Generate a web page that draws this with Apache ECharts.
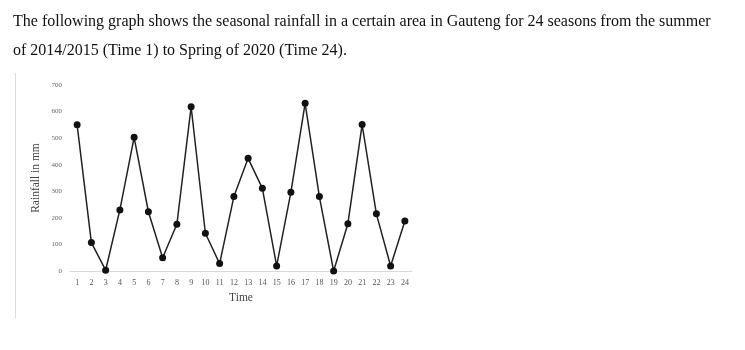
<!DOCTYPE html>
<html>
<head>
<meta charset="utf-8">
<script src="https://cdn.jsdelivr.net/npm/echarts@6/dist/echarts.min.js"></script>
<style>
  html, body { margin: 0; padding: 0; background: #fff; }
  #chart { width: 745px; height: 350px; }
</style>
</head>
<body>
<div id="chart"></div>
<script>
// Seasonal rainfall (mm), Time 1 = summer 2014/2015 ... Time 24 = spring 2020
const times = ['1','2','3','4','5','6','7','8','9','10','11','12','13','14','15','16','17','18','19','20','21','22','23','24'];
const rainfall = [550, 107, 3, 230, 503, 223, 50, 176, 618, 142, 28, 280, 424, 311, 19, 296, 631, 280, 0, 178, 551, 215, 19, 188];
const yTicks = [0, 100, 200, 300, 400, 500, 600, 700];

const captionLine1 = 'The following graph shows the seasonal rainfall in a certain area in Gauteng for 24 seasons from the summer';
const captionLine2 = 'of 2014/2015 (Time 1) to Spring of 2020 (Time 24).';

const serif = '"Liberation Serif", "DejaVu Serif", serif';
const chart = echarts.init(document.getElementById('chart'), null, { renderer: 'canvas' });

chart.setOption({
  animation: false,
  backgroundColor: '#fff',
  graphic: [
    {
      type: 'text', left: 13, top: 14,
      style: { text: captionLine1, font: '16px ' + serif, fill: '#111' }
    },
    {
      type: 'text', left: 13, top: 43,
      style: { text: captionLine2, font: '16px ' + serif, fill: '#111' }
    },
    {
      type: 'line',
      shape: { x1: 15.5, y1: 73, x2: 15.5, y2: 318 },
      style: { stroke: '#dcdcdc', lineWidth: 1 }
    }
  ],
  grid: { left: 70, right: 333, top: 85, bottom: 79 },
  xAxis: {
    type: 'category',
    data: times,
    boundaryGap: true,
    name: 'Time',
    nameLocation: 'middle',
    nameGap: 21,
    nameTextStyle: { fontFamily: serif, fontSize: 11.5, color: '#444' },
    axisLine: { lineStyle: { color: '#d9d9d9', width: 1 } },
    axisTick: { show: false },
    axisLabel: { fontFamily: serif, fontSize: 8, color: '#555', margin: 8, interval: 0 }
  },
  yAxis: {
    type: 'value',
    min: yTicks[0],
    max: yTicks[yTicks.length - 1],
    interval: 100,
    name: 'Rainfall in mm',
    nameLocation: 'middle',
    nameGap: 28,
    nameTextStyle: { fontFamily: serif, fontSize: 11.5, color: '#444' },
    axisLine: { show: false },
    axisTick: { show: false },
    splitLine: { show: false },
    axisLabel: { fontFamily: serif, fontSize: 7, color: '#666', margin: 8 }
  },
  series: [{
    type: 'line',
    data: rainfall,
    symbol: 'circle',
    symbolSize: 7,
    itemStyle: { color: '#111' },
    lineStyle: { color: '#222', width: 1.5 }
  }]
});
</script>
</body>
</html>
